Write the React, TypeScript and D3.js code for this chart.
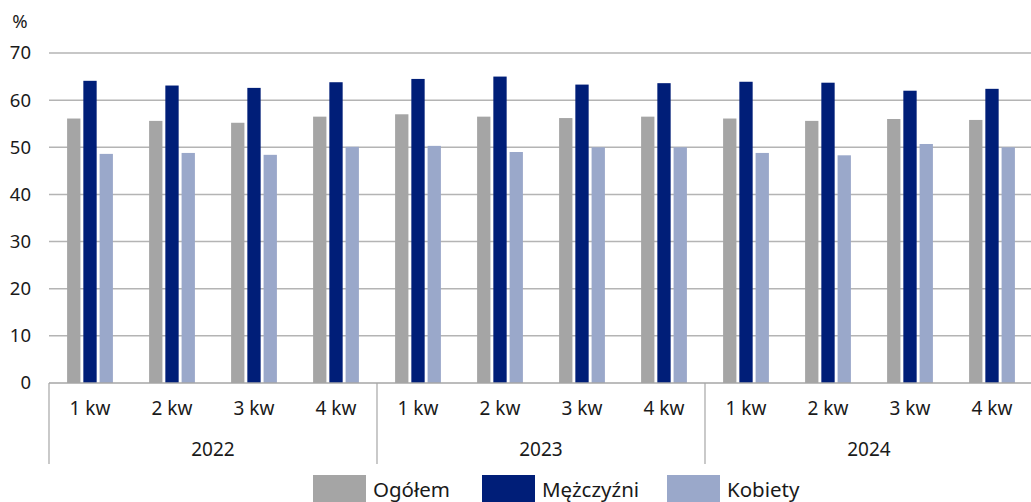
import React, { useEffect, useRef } from 'react';
import * as d3 from 'd3';

const years = ['2022', '2023', '2024'];
const quarters = ['1 kw', '2 kw', '3 kw', '4 kw'];
const seriesNames = ['Ogółem', 'Mężczyźni', 'Kobiety'];
const seriesColors = ['#a5a5a5', '#001e78', '#9aa8ca'];

const ogolem = [56.1, 55.6, 55.2, 56.5, 57.0, 56.5, 56.2, 56.5, 56.1, 55.6, 56.0, 55.8];
const mezczyzni = [64.1, 63.1, 62.6, 63.8, 64.5, 65.0, 63.3, 63.6, 63.9, 63.7, 62.0, 62.4];
const kobiety = [48.6, 48.8, 48.4, 50.1, 50.3, 49.0, 50.0, 50.0, 48.8, 48.3, 50.7, 50.0];

const yTicks = [0, 10, 20, 30, 40, 50, 60, 70];

const W = 1031;
const H = 502;
const margin = { top: 53, right: -2, bottom: 119, left: 49 };
const FONT = '"Noto Sans", sans-serif';

const App: React.FC = () => {
  const svgRef = useRef<SVGSVGElement>(null);

  useEffect(() => {
    if (!svgRef.current) return;
    const svg = d3.select(svgRef.current);
    svg.selectAll('*').remove();

    const innerW = W - margin.left - margin.right;
    const innerH = H - margin.top - margin.bottom;
    const g = svg.append('g').attr('transform', `translate(${margin.left},${margin.top})`);

    const cats = years.flatMap(y => quarters.map(q => `${y}|${q}`));
    const values = [ogolem, mezczyzni, kobiety];

    const x0 = d3.scaleBand().domain(cats).range([0, innerW]).paddingInner(0.37).paddingOuter(0.185);
    const x1 = d3.scaleBand().domain(seriesNames).range([0, x0.bandwidth()]).padding(0.18);
    const y = d3.scaleLinear().domain([0, 70]).range([innerH, 0]);

    // gridlines
    g.append('g')
      .selectAll('line')
      .data(yTicks.filter(t => t > 0))
      .enter()
      .append('line')
      .attr('x1', 0)
      .attr('x2', W - margin.left)
      .attr('y1', d => y(d))
      .attr('y2', d => y(d))
      .attr('stroke', '#b4b4b4')
      .attr('stroke-width', 1.5);

    // bars
    cats.forEach((c, i) => {
      seriesNames.forEach((s, si) => {
        const v = values[si][i];
        g.append('rect')
          .attr('x', (x0(c) || 0) + (x1(s) || 0))
          .attr('y', y(v))
          .attr('width', x1.bandwidth())
          .attr('height', y(0) - y(v))
          .attr('fill', seriesColors[si]);
      });
    });

    // baseline
    g.append('line')
      .attr('x1', 0)
      .attr('x2', W - margin.left)
      .attr('y1', y(0))
      .attr('y2', y(0))
      .attr('stroke', '#a6a6a6')
      .attr('stroke-width', 1.5);

    // y tick labels
    g.append('g')
      .selectAll('text')
      .data(yTicks)
      .enter()
      .append('text')
      .attr('x', -18)
      .attr('y', d => y(d))
      .attr('dy', '0.35em')
      .attr('text-anchor', 'end')
      .attr('font-family', FONT)
      .attr('font-size', 18.5)
      .attr('fill', '#1a1a1a')
      .text(d => String(d));

    svg.append('text')
      .attr('x', 20)
      .attr('y', 28)
      .attr('text-anchor', 'middle')
      .attr('font-family', FONT)
      .attr('font-size', 18.5)
      .attr('fill', '#1a1a1a')
      .text('%');

    // quarter labels
    g.append('g')
      .selectAll('text')
      .data(cats)
      .enter()
      .append('text')
      .attr('x', d => (x0(d) || 0) + x0.bandwidth() / 2)
      .attr('y', innerH + 32)
      .attr('text-anchor', 'middle')
      .attr('font-family', FONT)
      .attr('font-size', 19)
      .attr('fill', '#1a1a1a')
      .text(d => d.split('|')[1]);

    // year groups: dividers and labels
    const step = x0.step();
    const groupW = step * quarters.length;
    years.forEach((yr, i) => {
      const gx = i * groupW;
      g.append('line')
        .attr('x1', gx)
        .attr('x2', gx)
        .attr('y1', innerH)
        .attr('y2', innerH + 81)
        .attr('stroke', '#a6a6a6')
        .attr('stroke-width', 1.2);
      g.append('text')
        .attr('x', gx + groupW / 2)
        .attr('y', innerH + 73)
        .attr('text-anchor', 'middle')
        .attr('font-family', FONT)
        .attr('font-size', 19)
        .attr('fill', '#1a1a1a')
        .text(yr);
    });

    // legend
    const legendX = [313, 482, 667];
    const legend = svg.append('g');
    seriesNames.forEach((s, i) => {
      legend.append('rect')
        .attr('x', legendX[i])
        .attr('y', 475)
        .attr('width', 53)
        .attr('height', 30)
        .attr('fill', seriesColors[i]);
      legend.append('text')
        .attr('x', legendX[i] + 60)
        .attr('y', 497)
        .attr('font-family', FONT)
        .attr('font-size', 20.5)
        .attr('fill', '#1a1a1a')
        .text(s);
    });
  }, []);

  return (
    <div style={{ position: 'absolute', left: 0, top: 0, width: W, height: H, background: '#fff' }}>
      <svg ref={svgRef} width={W} height={H} style={{ display: 'block' }} />
    </div>
  );
};

export default App;
